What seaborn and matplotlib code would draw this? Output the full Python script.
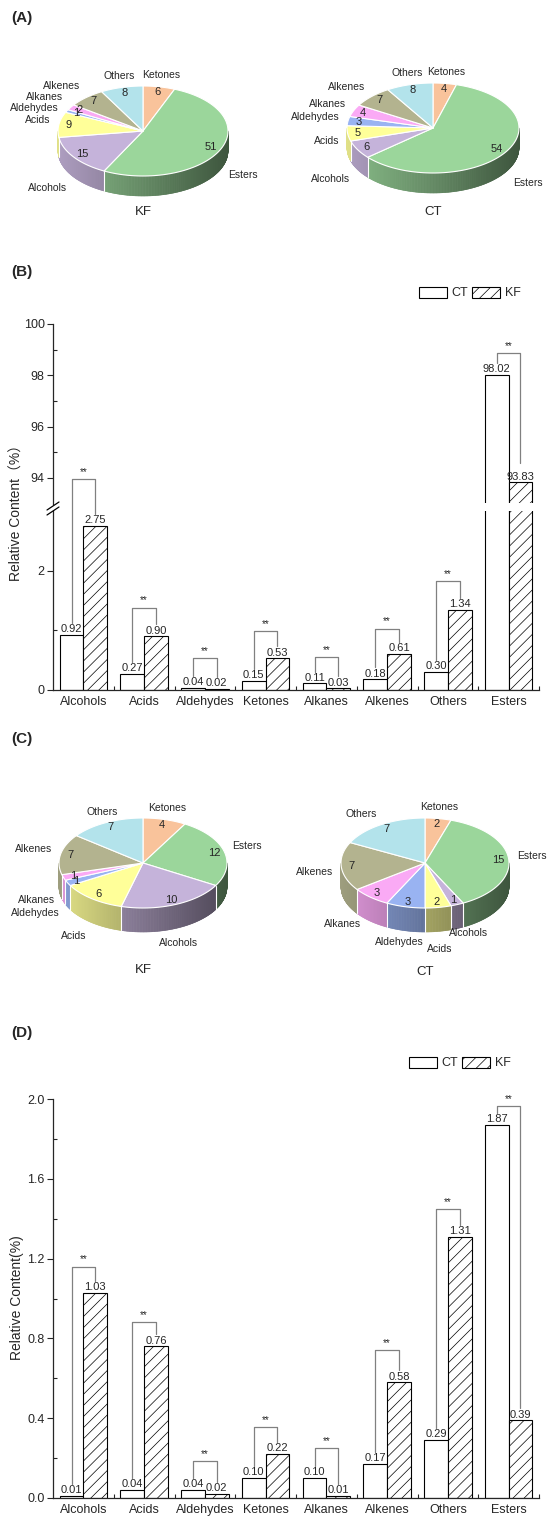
import numpy as np
import pandas as pd
import matplotlib
matplotlib.use('Agg')
import matplotlib.pyplot as plt
import matplotlib.patches as mpatches
from matplotlib.collections import PolyCollection
from matplotlib.lines import Line2D
from matplotlib.colors import to_rgb
import seaborn as sns

# ------------------------- data -------------------------
pie_classes = ['Ketones', 'Esters', 'Alcohols', 'Acids', 'Aldehydes', 'Alkanes', 'Alkenes', 'Others']
pie_colors = ['#F9C39B', '#9BD69B', '#C5B3DA', '#FFFF99', '#99B3F2', '#FAAAF5', '#B3B38F', '#B3E3EB']
a_kf_counts = [6, 51, 15, 9, 1, 2, 7, 8]
a_ct_counts = [4, 54, 6, 5, 3, 4, 7, 8]
c_kf_counts = [4, 12, 10, 6, 1, 1, 7, 7]
c_ct_counts = [2, 15, 1, 2, 3, 3, 7, 7]

bar_classes = ['Alcohols', 'Acids', 'Aldehydes', 'Ketones', 'Alkanes', 'Alkenes', 'Others', 'Esters']
groups = ['CT', 'KF']
b_ct = [0.92, 0.27, 0.04, 0.15, 0.11, 0.18, 0.30, 98.02]
b_kf = [2.75, 0.90, 0.02, 0.53, 0.03, 0.61, 1.34, 93.83]
d_ct = [0.01, 0.04, 0.04, 0.10, 0.10, 0.17, 0.29, 1.87]
d_kf = [1.03, 0.76, 0.02, 0.22, 0.01, 0.58, 1.31, 0.39]
b_sig = ['**'] * 8
d_sig = ['**'] * 8
b_bracket_top = [3.53, 1.38, 0.54, 0.99, 0.55, 1.03, 1.82, 98.86]
d_bracket_top = [1.16, 0.88, 0.185, 0.355, 0.25, 0.74, 1.45, 1.965]

# ------------------------- style -------------------------
sns.set_style('ticks')
plt.rcParams['font.family'] = ['Liberation Sans', 'Noto Sans CJK SC', 'DejaVu Sans']
plt.rcParams['hatch.linewidth'] = 0.5
plt.rcParams['axes.linewidth'] = 0.9

W, H = 550, 1524
fig = plt.figure(figsize=(W / 100, H / 100), dpi=100)
fig.patch.set_facecolor('white')


def px_axes(x0, y0, x1, y1):
    return fig.add_axes([x0 / W, 1 - y1 / H, (x1 - x0) / W, (y1 - y0) / H])


def ftext(x, y, s, **kw):
    fig.text(x / W, 1 - y / H, s, **kw)


# ------------------------- 3D pies -------------------------
def draw_pie3d(cx, cy, counts, rx, ry, depth, title, title_y, nudges=None):
    nudges = nudges or {}
    ax = px_axes(cx - 150, cy - 110, cx + 150, cy + 110)
    ax.set_xlim(-150, 150)
    ax.set_ylim(-110, 110)
    ax.axis('off')
    total = float(sum(counts))
    spans = np.array([c / total * 360 for c in counts])
    starts = 90 - np.concatenate([[0], np.cumsum(spans)[:-1]])
    ends = starts - spans
    polys, cols = [], []
    for s, e, col in zip(starts, ends, pie_colors):
        n = max(3, int(np.ceil(s - e)) * 2)
        ang = np.radians(np.linspace(s, e, n))
        base = np.array(to_rgb(col))
        for a0, a1 in zip(ang[:-1], ang[1:]):
            m = 0.5 * (a0 + a1)
            if np.sin(m) < 0:
                x0, y0 = rx * np.cos(a0), ry * np.sin(a0)
                x1, y1 = rx * np.cos(a1), ry * np.sin(a1)
                polys.append([(x0, y0), (x1, y1), (x1, y1 - depth), (x0, y0 - depth)])
                f = 0.88 - 0.24 * (1 + np.cos(m))
                cols.append(tuple(np.clip(base * f, 0, 1)))
    ax.add_collection(PolyCollection(polys, facecolors=cols, edgecolors=cols, linewidths=0.4))
    for b in starts:
        br = np.radians(b)
        if np.sin(br) < -0.01:
            xb, yb = rx * np.cos(br), ry * np.sin(br)
            ax.plot([xb, xb], [yb, yb - depth], color='white', lw=0.8)
    for s, e, col in zip(starts, ends, pie_colors):
        ang = np.radians(np.linspace(s, e, max(3, int(s - e) + 2)))
        pts = [(0, 0)] + list(zip(rx * np.cos(ang), ry * np.sin(ang)))
        ax.add_patch(mpatches.Polygon(pts, closed=True, fc=col, ec='white', lw=0.8, joinstyle='round'))
    # labels
    side_labels = {'left': [], 'right': []}
    for name, cnt, s, e in zip(pie_classes, counts, starts, ends):
        m = np.radians(0.5 * (s + e))
        c, sn = np.cos(m), np.sin(m)
        ax.text(0.88 * rx * c, 0.88 * ry * sn, str(cnt), ha='center', va='center', fontsize=8)
        x = 1.1 * rx * c
        if sn >= 0:
            y = 1.2 * ry * sn + 3
        else:
            y = 1.2 * ry * sn - (depth + 6) * min(1, 2 * abs(sn))
        ndx, ndy = nudges.get(name, (0, 0))
        x += ndx
        y -= ndy
        if abs(c) < 0.5:
            ax.text(x, y, name, ha='center', va='center', fontsize=7.5)
        else:
            side = 'right' if c > 0 else 'left'
            side_labels[side].append([x, y, name])
    for side, labs in side_labels.items():
        labs.sort(key=lambda t: -t[1])
        for _ in range(60):
            for i in range(len(labs) - 1):
                gap = labs[i][1] - labs[i + 1][1]
                if gap < 11:
                    d = (11 - gap) / 2
                    labs[i][1] += d
                    labs[i + 1][1] -= d
        for x, y, name in labs:
            ax.text(x, y, name, ha=('left' if side == 'right' else 'right'), va='center', fontsize=7.5)
    ftext(cx, title_y, title, ha='center', va='center', fontsize=9.5)


draw_pie3d(143, 131, a_kf_counts, 85, 45, 20, 'KF', 212)
draw_pie3d(433, 128, a_ct_counts, 86, 45, 20, 'CT', 212)
draw_pie3d(143, 863, c_kf_counts, 84, 45, 24, 'KF', 970)
draw_pie3d(425, 863, c_ct_counts, 84, 45, 24, 'CT', 972,
           nudges={'Alcohols': (8, -10), 'Acids': (0, 3), 'Aldehydes': (-4, -4), 'Alkanes': (-4, -10)})


# ------------------------- bars -------------------------
def bar_df(ct, kf):
    return pd.DataFrame({'Class': bar_classes * 2,
                         'Group': ['CT'] * len(bar_classes) + ['KF'] * len(bar_classes),
                         'Value': list(ct) + list(kf)})


def barplot(ax, df):
    sns.barplot(data=df, x='Class', y='Value', hue='Group', hue_order=groups,
                palette={'CT': 'white', 'KF': 'white'}, edgecolor='black', linewidth=0.8,
                width=0.78, errorbar=None, legend=False, saturation=1, ax=ax)
    for bar in ax.containers[1]:
        bar.set_hatch('///')
    ax.set_xlabel('')
    ax.set_ylabel('')
    ax.set_xlim(-0.5, 7.5)
    sns.despine(ax=ax)
    ax.tick_params(axis='y', which='major', direction='out', length=4, width=0.8, labelsize=9, pad=2)
    ax.tick_params(axis='y', which='minor', direction='in', length=3, width=0.8)


def style_x(ax):
    ax.set_xticks(range(len(bar_classes)))
    ax.set_xticklabels(bar_classes)
    ax.set_xticks(np.arange(0.5, 7.6, 1), minor=True)
    ax.tick_params(axis='x', which='major', length=0, labelsize=9, pad=4)
    ax.tick_params(axis='x', which='minor', direction='in', length=3, width=0.8)


def value_labels(ax, i, v, dx):
    ax.annotate(f'{v:.2f}', (i + dx, v), xytext=(0, 0.5), textcoords='offset points',
                ha='center', va='bottom', fontsize=8, annotation_clip=False)


def bracket(ax, i, lb, rb, top, sig):
    ax.plot([i - 0.195, i - 0.195, i + 0.195, i + 0.195], [lb, top, top, rb],
            color='#808080', lw=0.9, clip_on=False)
    ax.annotate(sig, (i, top), xytext=(0, 1.5), textcoords='offset points',
                ha='center', va='bottom', fontsize=7, annotation_clip=False)


# ---- panel B (broken axis) ----
dfb = bar_df(b_ct, b_kf)
ax_up = px_axes(53, 324, 539, 503.5)
ax_lo = px_axes(53, 511, 539, 690)
barplot(ax_up, dfb)
barplot(ax_lo, dfb)
ax_up.set_ylim(93, 100)
ax_lo.set_ylim(0, 3)
ax_up.set_yticks([94, 96, 98, 100])
ax_up.set_yticks([95, 97, 99], minor=True)
ax_lo.set_yticks([0, 2])
ax_lo.set_yticks([1], minor=True)
ax_up.spines['bottom'].set_visible(False)
ax_up.tick_params(axis='x', which='both', bottom=False, labelbottom=False)
style_x(ax_lo)
for ax in (ax_up, ax_lo):
    ax.patch.set_alpha(0)
for i, (c, k) in enumerate(zip(b_ct, b_kf)):
    if max(c, k) > 90:
        value_labels(ax_up, i, c, -0.195)
        value_labels(ax_up, i, k, 0.195)
        bracket(ax_up, i, c + 0.47, k + 0.75, b_bracket_top[i], b_sig[i])
    else:
        value_labels(ax_lo, i, c, -0.195)
        value_labels(ax_lo, i, k, 0.195)
        bracket(ax_lo, i, c + 0.2, k + 0.2, b_bracket_top[i], b_sig[i])
for dy in (0, 5):
    fig.add_artist(Line2D([47 / W, 59 / W], [1 - (510 + dy) / H, 1 - (502 + dy) / H],
                          transform=fig.transFigure, color='black', lw=0.9))
ftext(17, 509, 'Relative Content（%）', rotation=90, ha='center', va='center', fontsize=10)

# ---- panel D ----
dfd = bar_df(d_ct, d_kf)
ax_d = px_axes(53, 1099, 539, 1498)
barplot(ax_d, dfd)
ax_d.set_ylim(0, 2.0)
ax_d.set_yticks(np.round(np.arange(0, 2.01, 0.4), 1))
ax_d.set_yticklabels([f'{v:.1f}' for v in np.arange(0, 2.01, 0.4)])
ax_d.set_yticks(np.round(np.arange(0.2, 2.0, 0.4), 1), minor=True)
style_x(ax_d)
for i, (c, k) in enumerate(zip(d_ct, d_kf)):
    value_labels(ax_d, i, c, -0.195)
    value_labels(ax_d, i, k, 0.195)
    bracket(ax_d, i, c + 0.06, k + 0.06, d_bracket_top[i], d_sig[i])
ftext(17, 1298, 'Relative Content(%)', rotation=90, ha='center', va='center', fontsize=10)


# ---- legends ----
def legend_at(x, y):
    h_ct = mpatches.Patch(facecolor='white', edgecolor='black', linewidth=0.8, label='CT')
    h_kf = mpatches.Patch(facecolor='white', edgecolor='black', linewidth=0.8, hatch='///', label='KF')
    fig.legend(handles=[h_ct, h_kf], loc='center', bbox_to_anchor=(x / W, 1 - y / H), ncol=2,
               frameon=False, fontsize=9, handlelength=2.2, handleheight=1.0,
               handletextpad=0.4, columnspacing=0.3, borderpad=0, borderaxespad=0)


legend_at(470, 293)
legend_at(460, 1063)

# ---- panel labels ----
for lab, y in [('(A)', 18), ('(B)', 272), ('(C)', 739), ('(D)', 1033)]:
    ftext(11, y, lab, ha='left', va='center', fontsize=11, fontweight='bold')

fig.savefig('out.png', dpi=100, facecolor='white')
